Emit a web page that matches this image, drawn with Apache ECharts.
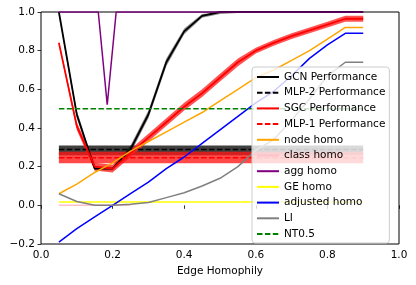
<!DOCTYPE html>
<html><head><meta charset="utf-8">
<script src="https://cdn.jsdelivr.net/npm/echarts@6/dist/echarts.min.js"></script>
<style>html,body{margin:0;padding:0;background:#fff}#c{width:416px;height:285px}</style>
</head><body><div id="c"></div><script>
const homophily = [0.05,0.1,0.15,0.2,0.25,0.3,0.35,0.4,0.45,0.5,0.55,0.6,0.65,0.7,0.75,0.8,0.85,0.9];
const gcnPerf   = [1.0,0.47,0.19,0.19,0.29,0.47,0.74,0.90,0.98,1.0,1.0,1.0,1.0,1.0,1.0,1.0,1.0,1.0];
const gcnLow    = [0.98,0.45,0.18,0.18,0.27,0.45,0.72,0.885,0.97,0.99,0.995,1.0,1.0,1.0,1.0,1.0,1.0,1.0];
const gcnHigh   = [1.0,0.49,0.20,0.20,0.31,0.49,0.76,0.915,0.99,1.0,1.0,1.0,1.0,1.0,1.0,1.0,1.0,1.0];
const mlp2Perf  = [0.289,0.289,0.289,0.289,0.289,0.289,0.289,0.289,0.289,0.289,0.289,0.289,0.289,0.289,0.289,0.289,0.289,0.289];
const mlp2Low   = [0.259,0.259,0.259,0.259,0.259,0.259,0.259,0.259,0.259,0.259,0.259,0.259,0.259,0.259,0.259,0.259,0.259,0.259];
const mlp2High  = [0.31,0.31,0.31,0.31,0.31,0.31,0.31,0.31,0.31,0.31,0.31,0.31,0.31,0.31,0.31,0.31,0.31,0.31];
const sgcPerf   = [0.84,0.41,0.20,0.19,0.27,0.35,0.43,0.51,0.58,0.66,0.74,0.80,0.84,0.875,0.905,0.935,0.965,0.965];
const sgcLow    = [0.83,0.39,0.18,0.17,0.25,0.33,0.41,0.49,0.56,0.64,0.72,0.785,0.825,0.86,0.89,0.92,0.95,0.95];
const sgcHigh   = [0.85,0.43,0.22,0.21,0.29,0.37,0.45,0.53,0.60,0.68,0.76,0.815,0.855,0.89,0.92,0.95,0.98,0.98];
const mlp1Perf  = [0.246,0.246,0.246,0.246,0.246,0.246,0.246,0.246,0.246,0.246,0.246,0.246,0.246,0.246,0.246,0.246,0.246,0.246];
const mlp1Low   = [0.218,0.218,0.218,0.218,0.218,0.218,0.218,0.218,0.218,0.218,0.218,0.218,0.218,0.218,0.218,0.218,0.218,0.218];
const mlp1High  = [0.277,0.277,0.277,0.277,0.277,0.277,0.277,0.277,0.277,0.277,0.277,0.277,0.277,0.277,0.277,0.277,0.277,0.277];
const nodeHomo  = [0.06,0.11,0.17,0.22,0.28,0.33,0.38,0.43,0.48,0.54,0.60,0.66,0.70,0.75,0.80,0.86,0.92,0.92];
const classHomoX = [0.05,0.1,0.15,0.2,0.25];
const classHomo  = [0.0,0.0,0.0,0.0,0.0];
const aggHomoX  = [0.05,0.1,0.15,0.16,0.185,0.21,0.25,0.3,0.35,0.4,0.45,0.5,0.55,0.6,0.65,0.7,0.75,0.8,0.85,0.9];
const aggHomo   = [1.0,1.0,1.0,1.0,0.52,1.0,1.0,1.0,1.0,1.0,1.0,1.0,1.0,1.0,1.0,1.0,1.0,1.0,1.0,1.0];
const geHomo    = [0.017,0.017,0.017,0.017,0.017,0.017,0.017,0.017,0.017,0.017,0.017,0.017,0.017,0.017,0.017,0.017,0.017,0.017];
const adjHomo   = [-0.19,-0.12,-0.06,0.0,0.06,0.12,0.19,0.25,0.32,0.39,0.46,0.53,0.59,0.67,0.76,0.83,0.89,0.89];
const liVals    = [0.06,0.02,0.0,0.0,0.005,0.015,0.04,0.065,0.10,0.14,0.20,0.285,0.34,0.44,0.55,0.67,0.74,0.74];
const nt05      = [0.5,0.5,0.5,0.5,0.5,0.5,0.5,0.5,0.5,0.5,0.5,0.5,0.5,0.5,0.5,0.5,0.5,0.5];
const legendNames = ['GCN Performance','MLP-2 Performance','SGC Performance','MLP-1 Performance','node homo','class homo','agg homo','GE homo','adjusted homo','LI','NT0.5'];

const FONT = 'DejaVu Sans';
const FS = 10.5;
function pairs(xs, ys){ return xs.map((x,i)=>[x, ys[i]]); }
function band(id, xs, lo, hi, color){
  return {type:'custom', name:id, silent:true, clip:true, data:[[xs[0], lo[0]]],
    renderItem:(params, api)=>{
      const pts=[];
      for(let i=0;i<xs.length;i++) pts.push(api.coord([xs[i],hi[i]]));
      for(let i=xs.length-1;i>=0;i--) pts.push(api.coord([xs[i],lo[i]]));
      return {type:'polygon', shape:{points:pts}, style:{fill:color, stroke:null}};
    }};
}
function line(name, xs, ys, color, width, dashed){
  return {type:'line', name:name, data:pairs(xs,ys), symbol:'none', clip:true,
    lineStyle:{color:color, width:width, type: dashed ? [5.5,2.4] : 'solid'},
    itemStyle:{color:color}, animation:false};
}
const chart = echarts.init(document.getElementById('c'), null, {renderer:'canvas'});
chart.setOption({
  animation:false,
  textStyle:{fontFamily:FONT},
  grid:{left:41, right:17, top:12, bottom:41, show:true, borderColor:'#000', borderWidth:1, backgroundColor:'transparent'},
  xAxis:{type:'value', min:0, max:1, interval:0.2,
    name:'Edge Homophily', nameLocation:'middle', nameGap:21,
    nameTextStyle:{fontFamily:FONT, fontSize:FS, color:'#000'},
    axisLine:{show:false}, splitLine:{show:false},
    axisTick:{show:true, length:3.5, lineStyle:{color:'#000', width:0.8}},
    axisLabel:{margin:6, fontFamily:FONT, fontSize:FS, color:'#000', formatter:v=>v.toFixed(1)}},
  yAxis:{type:'value', min:-0.2, max:1.0, interval:0.2,
    axisLine:{show:false}, splitLine:{show:false},
    axisTick:{show:true, length:3.5, lineStyle:{color:'#000', width:0.8}},
    axisLabel:{margin:6, fontFamily:FONT, fontSize:FS, color:'#000', formatter:v=>(v<-1e-9?'\u2212':'')+Math.abs(v).toFixed(1)}},
  legend:{data:legendNames, orient:'vertical', left:252, top:67, padding:[4,4,3,4],
    itemWidth:22, itemHeight:12, itemGap:3.7, itemTextGap:9,
    itemStyle:{opacity:0, borderWidth:0},
    backgroundColor:'rgba(255,255,255,0.8)', borderColor:'#cccccc', borderWidth:1, borderRadius:3,
    textStyle:{fontFamily:FONT, fontSize:FS, color:'#000', lineHeight:12},
    selectedMode:false},
  series:[
    band('gcnBand', homophily, gcnLow, gcnHigh, 'rgba(60,60,60,0.6)'),
    line('GCN Performance', homophily, gcnPerf, '#000', 1.8, false),
    band('mlp2Band', homophily, mlp2Low, mlp2High, 'rgba(0,0,0,0.75)'),
    line('MLP-2 Performance', homophily, mlp2Perf, '#000', 1.5, true),
    band('sgcBand', homophily, sgcLow, sgcHigh, 'rgba(255,40,40,0.8)'),
    line('SGC Performance', homophily, sgcPerf, '#ff0000', 1.8, false),
    band('mlp1Band', homophily, mlp1Low, mlp1High, 'rgba(255,20,20,0.78)'),
    line('MLP-1 Performance', homophily, mlp1Perf, '#ff0000', 1.5, true),
    line('node homo', homophily, nodeHomo, '#ffa500', 1.5, false),
    line('class homo', classHomoX, classHomo, '#ffc0cb', 1.5, false),
    line('agg homo', aggHomoX, aggHomo, '#800080', 1.5, false),
    line('GE homo', homophily, geHomo, '#ffff00', 1.5, false),
    line('adjusted homo', homophily, adjHomo, '#0000ff', 1.5, false),
    line('LI', homophily, liVals, '#808080', 1.5, false),
    line('NT0.5', homophily, nt05, '#008000', 1.5, true)
  ]
});
</script></body></html>
